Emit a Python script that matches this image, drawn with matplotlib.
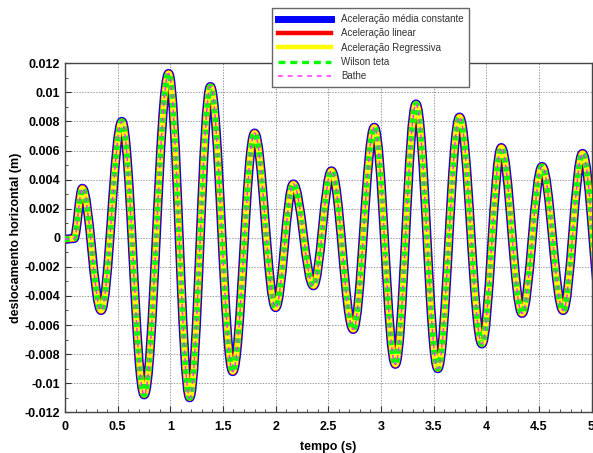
import numpy as np
import matplotlib
matplotlib.use('Agg')
import matplotlib.pyplot as plt
from matplotlib.path import Path
from matplotlib.patches import PathPatch
from matplotlib.lines import Line2D
from matplotlib.ticker import MultipleLocator

plt.rcParams['font.family'] = ['Liberation Sans', 'DejaVu Sans']
plt.rcParams['lines.scale_dashes'] = False

# extremos (picos/vales): tempo (s) e deslocamento (m)
tempo = [0.0, 0.085, 0.165, 0.343, 0.540, 0.752, 0.984, 1.184, 1.381, 1.593,
         1.800, 2.000, 2.168, 2.359, 2.530, 2.737, 2.937, 3.137, 3.333, 3.540,
         3.746, 3.959, 4.143, 4.340, 4.530, 4.730, 4.914, 5.110]
desloc = [-0.0001, -0.00005, 0.0034, -0.0050, 0.0080, -0.0108, 0.0113, -0.0110,
          0.0104, -0.0092, 0.0072, -0.0048, 0.0037, -0.0033, 0.0046, -0.0063,
          0.0076, -0.0087, 0.0092, -0.0090, 0.0083, -0.0073, 0.0062, -0.0052,
          0.0049, -0.0050, 0.0058, -0.0056]

metodos = ['Aceleração média constante', 'Aceleração linear',
           'Aceleração Regressiva', 'Wilson teta', 'Bathe']
cores = ['#0000ff', '#ff0000', '#ffff00', '#00ff00', '#ff33ff']

x_ticks = [0, 0.5, 1, 1.5, 2, 2.5, 3, 3.5, 4, 4.5, 5]
x_labels = ['0', '0.5', '1', '1.5', '2', '2.5', '3', '3.5', '4', '4.5', '5']
y_ticks = [-0.012, -0.01, -0.008, -0.006, -0.004, -0.002, 0, 0.002, 0.004,
           0.006, 0.008, 0.01, 0.012]
y_labels = ['-0.012', '-0.01', '-0.008', '-0.006', '-0.004', '-0.002', '0',
            '0.002', '0.004', '0.006', '0.008', '0.01', '0.012']

# estilos (largura em pt, tracejado)
larguras = [6.6, 5.0, 4.2, 4.2, 1.1]
tracos = ['-', '-', '-', (0, (3.4, 3.0)), (0, (3.0, 2.6))]
larg_leg = [5.0, 3.2, 3.2, 2.4, 1.1]
traco_leg = ['-', '-', '-', (0, (5.0, 3.5)), (0, (3.5, 3.5))]


def curva_suave(t, u, k=0.364):
    # caminho de Bezier com tangente horizontal nos extremos
    verts = [(t[0], u[0])]
    codes = [Path.MOVETO]
    for i in range(len(t) - 1):
        dt = t[i + 1] - t[i]
        verts += [(t[i] + k * dt, u[i]), (t[i + 1] - k * dt, u[i + 1]),
                  (t[i + 1], u[i + 1])]
        codes += [Path.CURVE4] * 3
    return Path(verts, codes)


fig = plt.figure(figsize=(5.93, 4.53), dpi=100)
ax = fig.add_axes([0.1096, 0.0899, 0.888, 0.7704])

caminho = curva_suave(tempo, desloc)
for i in range(len(metodos)):
    ax.add_patch(PathPatch(caminho, fill=False, edgecolor=cores[i],
                           linewidth=larguras[i], linestyle=tracos[i],
                           capstyle='butt', joinstyle='round', zorder=2 + i))

ax.set_xlim(0, 5)
ax.set_ylim(-0.012, 0.012)
ax.set_xticks(x_ticks)
ax.set_xticklabels(x_labels)
ax.set_yticks(y_ticks)
ax.set_yticklabels(y_labels)
ax.xaxis.set_minor_locator(MultipleLocator(0.1))
ax.yaxis.set_minor_locator(MultipleLocator(0.001))
ax.tick_params(which='both', direction='in', colors='#333333', labelcolor='black',
               labelsize=9)
ax.tick_params(which='major', length=4)
ax.tick_params(which='minor', length=2)
ax.tick_params(axis='x', pad=6)
for lab in ax.get_xticklabels() + ax.get_yticklabels():
    lab.set_fontweight('bold')
ax.grid(True, which='major', linestyle=(0, (1, 1)), color='#999999', linewidth=0.7)
for s in ax.spines.values():
    s.set_color('#444444')
    s.set_linewidth(1.0)

ax.set_xlabel('tempo (s)', fontsize=9, fontweight='bold', labelpad=6)
ax.set_ylabel('deslocamento horizontal (m)', fontsize=9, fontweight='bold', labelpad=2)

handles = [Line2D([], [], color=cores[i], linewidth=larg_leg[i], linestyle=traco_leg[i])
           for i in range(len(metodos))]
leg = fig.legend(handles, metodos, loc='upper left', bbox_to_anchor=(0.4587, 0.982),
                 bbox_transform=fig.transFigure, borderaxespad=0, fontsize=7,
                 handlelength=5.5, handletextpad=1.0, labelspacing=0.45,
                 borderpad=0.6, fancybox=False, framealpha=1, edgecolor='#666666')
leg.get_frame().set_linewidth(1.0)
for txt in leg.get_texts():
    txt.set_color('#333333')

fig.savefig('out.png', dpi=100)
